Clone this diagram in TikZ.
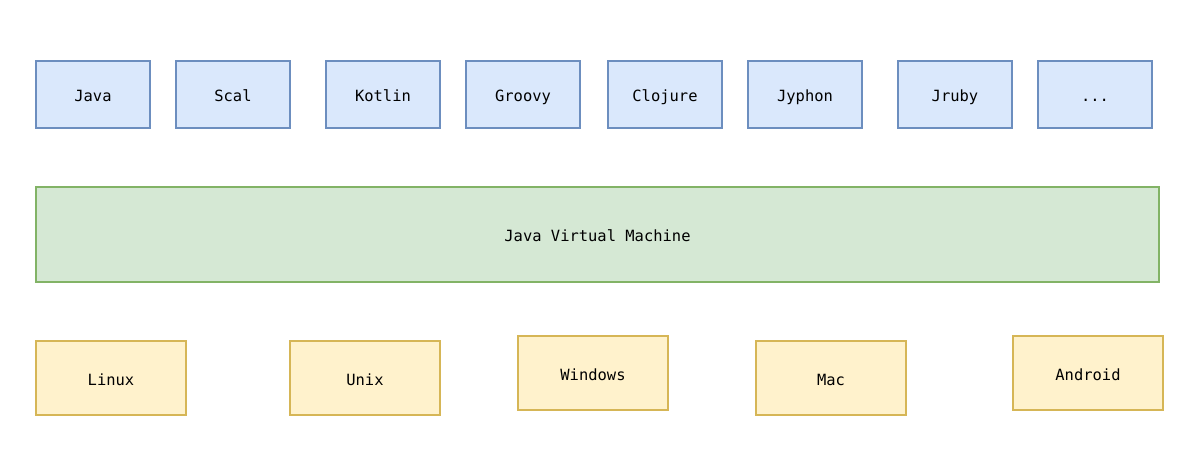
\documentclass[tikz,border=0pt]{standalone}
\usepackage{fontspec}
\setmonofont{DejaVu Sans Mono}
\usetikzlibrary{positioning}
\definecolor{langfill}{HTML}{DAE8FC}
\definecolor{langdraw}{HTML}{6C8EBF}
\definecolor{vmfill}{HTML}{D5E8D4}
\definecolor{vmdraw}{HTML}{82B366}
\definecolor{osfill}{HTML}{FFF2CC}
\definecolor{osdraw}{HTML}{D6B656}
\tikzset{ box/.style={draw, line width=0.75pt, font=\ttfamily\fontsize{8.8}{10}\selectfont,
          inner sep=0pt, text height=0.9em, text depth=0.1em},
        lang/.style={box, fill=langfill, draw=langdraw, minimum width=2.28cm, minimum height=1.34cm},
        os/.style={box, fill=osfill, draw=osdraw, minimum width=3.0cm, minimum height=1.48cm}}
\newcommand{\etc}{...}

\begin{document}
\begin{tikzpicture}[x=0.02cm, y=-0.02cm]

\useasboundingbox (0,0) rectangle (1188,460);

\foreach \x/\n/\t in {93/java/Java, 233/scal/Scal, 383/kotlin/Kotlin, 523/groovy/Groovy,
  665/clojure/Clojure, 805/jyphon/Jyphon, 955/jruby/Jruby, 1095/more/\etc} %languages
  \node[lang] (\n) at (\x,94.5) {\t};

% the virtual machine
\node[box, fill=vmfill, draw=vmdraw, minimum width=22.46cm, minimum height=1.9cm]
  (jvm) at (597.5,234.5) {Java Virtual Machine};

\foreach \x/\y/\n/\t in {111/378/linux/Linux, 365/378/unix/Unix, 593/373/windows/Windows,
  831/378/mac/Mac, 1088/373/android/Android} %systems
  \node[os] (\n) at (\x,\y) {\t};

\end{tikzpicture}
\end{document}
